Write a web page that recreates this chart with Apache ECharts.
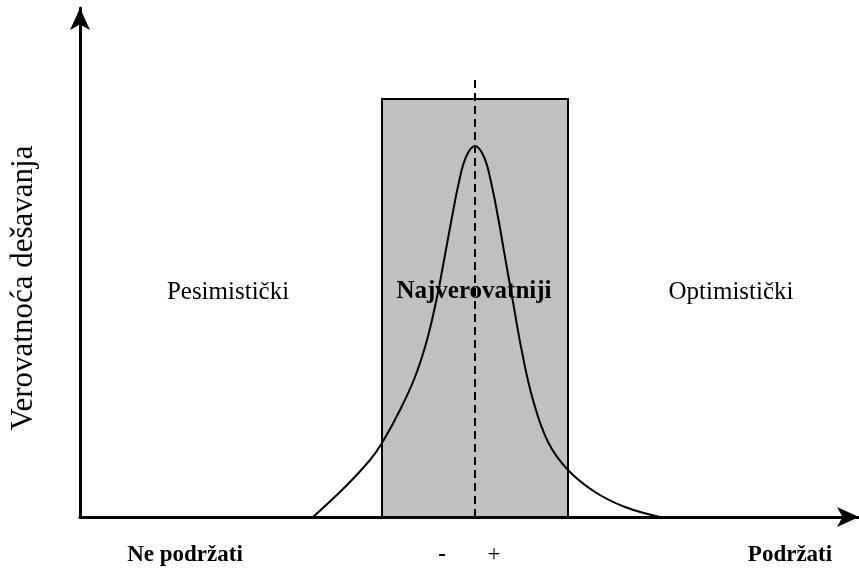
<!DOCTYPE html>
<html><head><meta charset="utf-8">
<script src="https://cdn.jsdelivr.net/npm/echarts@6/dist/echarts.min.js"></script>
<style>html,body{margin:0;padding:0;background:#fff}#c{width:859px;height:585px}</style>
</head><body><div id="c"></div>
<script>
// Curve (x position, probability height)
const curveX = [313,345,370,382,400,415,427,437,445,452,459,466,475,484,491,498,505,513,522,533,548,568,595,625,660];
const curveY = [0,30,57,74,107,140,177,220,262,300,335,360,371,360,335,300,260,215,165,117,75,47,25,10,0];
const boxRange = [382, 568];
const boxHeight = 418;
const centerX = 475;
const centerLineTop = 442;
const xLabels = ['Ne podržati', '-', '+', 'Podržati'];
const zoneLabels = ['Pesimistički', 'Najverovatniji', 'Optimistički'];
const yTitle = 'Verovatnoća dešavanja';

const font = 'Liberation Serif, Times New Roman, serif';
const chart = echarts.init(document.getElementById('c'));
chart.setOption({
  animation: false,
  grid: {left: 80, right: 0, top: 8, bottom: 68},
  xAxis: {type: 'value', min: 80, max: 859, axisLine: {show: true, lineStyle: {color: '#000', width: 3}, symbol: ['none','arrow'], symbolSize: [15, 22]},
    axisTick: {show: false}, axisLabel: {show: false}, splitLine: {show: false}},
  yAxis: {type: 'value', min: 0, max: 509, axisLine: {show: true, lineStyle: {color: '#000', width: 3}, symbol: ['none','arrow'], symbolSize: [15, 22]},
    axisTick: {show: false}, axisLabel: {show: false}, splitLine: {show: false}},
  series: [
    {type: 'line', data: [], z: 1,
      markArea: {silent: true, itemStyle: {color: '#c0c0c0', borderColor: '#000', borderWidth: 2},
        data: [[{xAxis: boxRange[0], yAxis: 0}, {xAxis: boxRange[1], yAxis: boxHeight}]]}},
    {type: 'line', data: curveX.map((x, i) => [x, curveY[i]]), smooth: 0.4, showSymbol: false, z: 3,
      lineStyle: {color: '#000', width: 2}},
    {type: 'line', data: [], z: 4,
      markLine: {silent: true, symbol: 'none', label: {show: false},
        lineStyle: {color: '#000', width: 2, type: [8, 5]},
        data: [[{coord: [centerX, 0]}, {coord: [centerX, centerLineTop]}]]}}
  ],
  graphic: [
    {type: 'text', x: 24, y: 288, rotation: Math.PI/2, z: 10,
      style: {text: yTitle, font: '31px ' + font, fill: '#000', align: 'center', verticalAlign: 'middle'}},
    {type: 'text', x: 185, y: 555, style: {text: xLabels[0], font: 'bold 23px ' + font, fill: '#000', align: 'center', verticalAlign: 'middle'}},
    {type: 'text', x: 442, y: 555, style: {text: xLabels[1], font: 'bold 23px ' + font, fill: '#000', align: 'center', verticalAlign: 'middle'}},
    {type: 'text', x: 494, y: 555, style: {text: xLabels[2], font: '23px ' + font, fill: '#000', align: 'center', verticalAlign: 'middle'}},
    {type: 'text', x: 790, y: 555, style: {text: xLabels[3], font: 'bold 23px ' + font, fill: '#000', align: 'center', verticalAlign: 'middle'}},
    {type: 'text', x: 228, y: 292, z: 10, style: {text: zoneLabels[0], font: '25px ' + font, fill: '#000', align: 'center', verticalAlign: 'middle'}},
    {type: 'text', x: 474, y: 292, z: 10, style: {text: zoneLabels[1], font: 'bold 25px ' + font, fill: '#000', align: 'center', verticalAlign: 'middle'}},
    {type: 'text', x: 731, y: 292, z: 10, style: {text: zoneLabels[2], font: '25px ' + font, fill: '#000', align: 'center', verticalAlign: 'middle'}}
  ]
});
</script></body></html>
